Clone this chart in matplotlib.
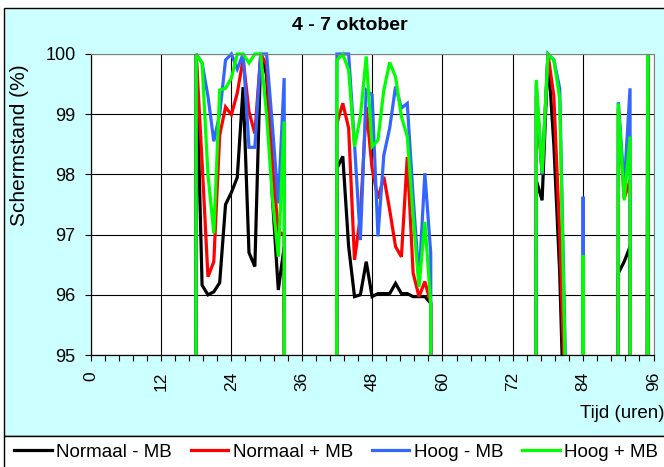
import matplotlib
matplotlib.use('Agg')
import matplotlib.pyplot as plt
from matplotlib.patches import Rectangle
from matplotlib.ticker import MultipleLocator
from matplotlib.lines import Line2D

plt.rcParams['font.family'] = ['Liberation Sans', 'DejaVu Sans']

# ---------------- data (hourly, 0 = screen open) ----------------
hours = list(range(97))

normaal_min_mb = ([0] * 18 +
    [100, 96.16, 96.0, 96.05, 96.2, 97.5, 97.7, 97.95, 99.45, 96.7, 96.47, 100, 99.65, 97.6, 96.08, 96.8] +
    [0] * 8 +
    [98.1, 98.3, 96.8, 95.97, 96.0, 96.55, 95.97, 96.02, 96.02, 96.02, 96.19, 96.02, 96.02, 95.97, 95.97, 95.97, 95.86] +
    [0] * 17 +
    [97.9, 97.57, 100, 98.5, 96.36, 93.0] +
    [0, 0] + [96.2] + [0] * 5 +
    [96.36, 96.55, 96.8] + [0, 0] + [100] + [0])

normaal_plus_mb = ([0] * 18 +
    [100, 98.2, 96.3, 96.55, 98.65, 99.12, 98.99, 99.35, 99.92, 99.04, 98.68, 100, 99.82, 98.21, 97.05, 97.0] +
    [0] * 8 +
    [98.85, 99.18, 98.77, 96.58, 97.3, 99.12, 98.1, 97.6, 97.96, 97.41, 96.8, 96.63, 98.29, 96.36, 95.97, 96.22, 95.86] +
    [0] * 17 +
    [99.3, 98.0, 100, 99.3, 97.0, 94.0] +
    [0, 0] + [96.4] + [0] * 5 +
    [99.1, 97.6, 97.9] + [0, 0] + [100] + [0])

hoog_min_mb = ([0] * 18 +
    [100, 99.85, 99.3, 98.55, 99.0, 99.9, 100, 99.75, 100, 98.45, 98.45, 100, 100, 98.8, 97.52, 99.6] +
    [0] * 8 +
    [100, 100, 100, 98.5, 96.91, 99.4, 99.32, 96.97, 98.32, 98.77, 99.46, 99.1, 99.18, 97.63, 96.25, 98.02, 96.69] +
    [0] * 17 +
    [99.5, 98.0, 100, 99.9, 99.43, 94.8] +
    [0, 0] + [97.63] + [0] * 5 +
    [99.2, 97.8, 99.43] + [0, 0] + [100] + [0])

hoog_plus_mb = ([0] * 18 +
    [100, 99.85, 98.0, 97.02, 99.4, 99.43, 99.6, 100, 100, 99.85, 100, 100, 99.0, 97.6, 96.63, 98.88] +
    [0] * 8 +
    [99.9, 100, 99.73, 98.46, 98.96, 99.96, 98.46, 98.57, 99.4, 99.86, 99.62, 98.96, 98.63, 97.3, 96.13, 97.21, 95.86] +
    [0] * 17 +
    [99.57, 98.02, 100, 99.9, 99.26, 94.5] +
    [0, 0] + [96.66] + [0] * 5 +
    [99.18, 97.57, 98.63] + [0, 0] + [100] + [0])

series_names = ['Normaal - MB', 'Normaal + MB', 'Hoog - MB', 'Hoog + MB']
series_colors = ['#000000', '#ff0000', '#3366ff', '#00ff00']
series_values = [normaal_min_mb, normaal_plus_mb, hoog_min_mb, hoog_plus_mb]

x_ticks = [0, 12, 24, 36, 48, 60, 72, 84, 96]
y_ticks = [95, 96, 97, 98, 99, 100]

title = '4 - 7 oktober'
y_label = 'Schermstand (%)'
x_label = 'Tijd (uren)'

# ---------------- layout ----------------
W, H = 664, 467
fig = plt.figure(figsize=(W / 100, H / 100), dpi=100)
fig.patch.set_facecolor('white')


def fx(px):
    return px / W


def fy(py):
    return 1 - py / H


# chart area (cyan) and legend box (white)
fig.patches.append(Rectangle((fx(4), fy(436)), fx(720) - fx(4), fy(8) - fy(436),
                             transform=fig.transFigure, facecolor='#ccffff',
                             edgecolor='black', lw=1.0, zorder=-10))
fig.patches.append(Rectangle((fx(4), fy(490)), fx(720) - fx(4), fy(436) - fy(490),
                             transform=fig.transFigure, facecolor='white',
                             edgecolor='black', lw=1.0, zorder=-10))

ax = fig.add_axes([fx(90.7), fy(355), fx(653.5) - fx(90.7), fy(54) - fy(355)])
ax.set_zorder(2)
ax.set_facecolor('white')

clip = Rectangle((0, 0), 1, 1.012, transform=ax.transAxes, facecolor='none', edgecolor='none')
ax.add_patch(clip)

for name, col, vals in zip(series_names, series_colors, series_values):
    ln, = ax.plot(hours, vals, color=col, lw=2.3, label=name, solid_joinstyle='miter')
    ln.set_clip_path(clip)

ax.set_xlim(0, 96)
ax.set_ylim(95, 100)
ax.set_xticks(x_ticks)
ax.set_yticks(y_ticks)
ax.xaxis.set_minor_locator(MultipleLocator(2.4))
ax.set_xticklabels([str(t) for t in x_ticks], rotation=90, fontsize=12.5)
ax.set_yticklabels([str(t) for t in y_ticks], fontsize=13)
ax.tick_params(axis='x', which='both', direction='out', length=4, width=0.8, pad=8, color='black')
ax.tick_params(axis='y', which='major', direction='out', length=4, width=0.8, pad=7, color='black')

ax.grid(True, which='major', color='black', lw=0.8)
ax.set_axisbelow(True)
for s in ['top', 'right']:
    ax.spines[s].set_color('#808080')
    ax.spines[s].set_linewidth(0.8)
for s in ['left', 'bottom']:
    ax.spines[s].set_color('black')
    ax.spines[s].set_linewidth(0.9)

fig.text(fx(350), fy(25), title, ha='center', va='center', fontsize=14, fontweight='bold')
fig.text(fx(20), fy(145), y_label, ha='center', va='center', rotation=90, fontsize=15)
fig.text(fx(580), fy(413), x_label, ha='left', va='center', fontsize=13.5)

handles = [Line2D([], [], color=c, lw=2.3) for c in series_colors]
fig.legend(handles, series_names, loc='center left', bbox_to_anchor=(fx(14), fy(452)),
           ncol=4, frameon=False, fontsize=13.5, handlelength=2.0, handletextpad=0.25,
           columnspacing=1.0, borderaxespad=0, borderpad=0)

fig.savefig('out.png', dpi=100)
